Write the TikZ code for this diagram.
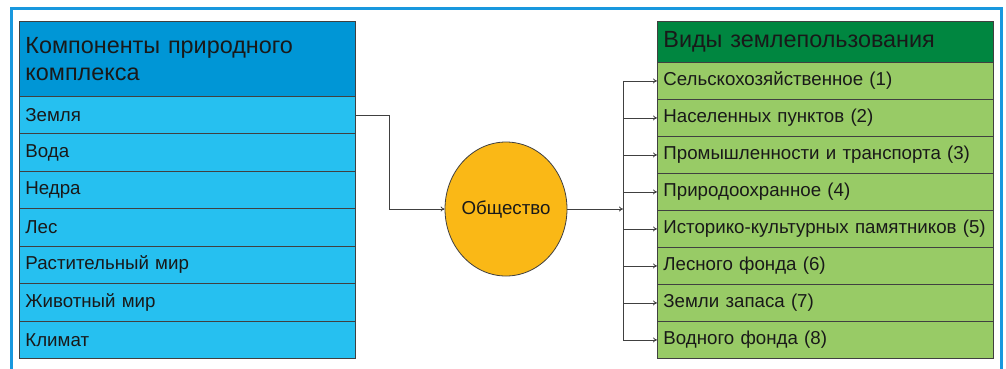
\documentclass[tikz,border=0pt]{standalone}
\usepackage{fontspec}
\setmainfont{Liberation Sans}
\usetikzlibrary{arrows.meta,shapes.geometric}
\definecolor{frameblue}{RGB}{24,152,222}
\definecolor{headblue}{RGB}{0,150,214}
\definecolor{rowblue}{RGB}{38,192,240}
\definecolor{headgreen}{RGB}{0,134,64}
\definecolor{rowgreen}{RGB}{152,203,102}
\definecolor{societyorange}{RGB}{250,184,22}

\begin{document}
\begin{tikzpicture}[x=1pt, y=-1pt,
  cell/.style={draw=black!75, line width=0.8pt, anchor=north west,
    text width=324pt, inner xsep=6pt, inner ysep=0pt, align=left,
    text=black!90, font=\fontsize{18.7}{21}\selectfont},
  head/.style={cell, font=\fontsize{23.4}{27}\selectfont},
  link/.style={draw=black!75, line width=0.8pt},
  arrowlink/.style={link, -{To[length=4pt,width=5pt]}}]
\useasboundingbox (0,0) rectangle (1006,368);
\clip (0,0) rectangle (1006,368);
% outer frame
\draw[frameblue, line width=3pt] (11,8) rectangle (1001,390);

% Components of the natural complex
\node[head, fill=headblue, minimum height=75pt] (comphead) at (19,21)
  {Компоненты природного\\комплекса};
\foreach \t [count=\i] in {Земля,Вода,Недра,Лес,Растительный мир,Животный мир,Климат}
  \node[cell, fill=rowblue, minimum height=37.43pt] (comp\i) at (19,{96+(\i-1)*37.43}) {\t};

% Land use types
\node[head, fill=headgreen, minimum height=41pt] (usehead) at (657,21)
  {Виды землепользования};
\foreach \t [count=\i] in {Сельскохозяйственное (1),Населенных пунктов (2),
    Промышленности и транспорта (3),Природоохранное (4),
    Историко-культурных памятников (5),Лесного фонда (6),
    Земли запаса (7),Водного фонда (8)}
  \node[cell, fill=rowgreen, minimum height=37pt] (use\i) at (657,{62+(\i-1)*37}) {\t};

% Society
\node[ellipse, draw=black!75, line width=0.8pt, fill=societyorange, inner sep=0pt,
  minimum width=122pt, minimum height=134pt, text=black!90,
  font=\fontsize{18.7}{21}\selectfont]
  (society) at (506,209) {\makebox[80pt]{Общество}};

\coordinate (bend) at (389,0);
\coordinate (bus) at (623,209);
\draw[arrowlink] (comp1.east) -| (bend |- society.west) -- (society.west);
\draw[arrowlink] (society.east) -- (bus);
\draw[link] (bus |- use1.west) -- (bus |- use8.west);
\foreach \i in {1,...,8}
  \draw[arrowlink] (bus |- use\i.west) -- (use\i.west);
\end{tikzpicture}
\end{document}
